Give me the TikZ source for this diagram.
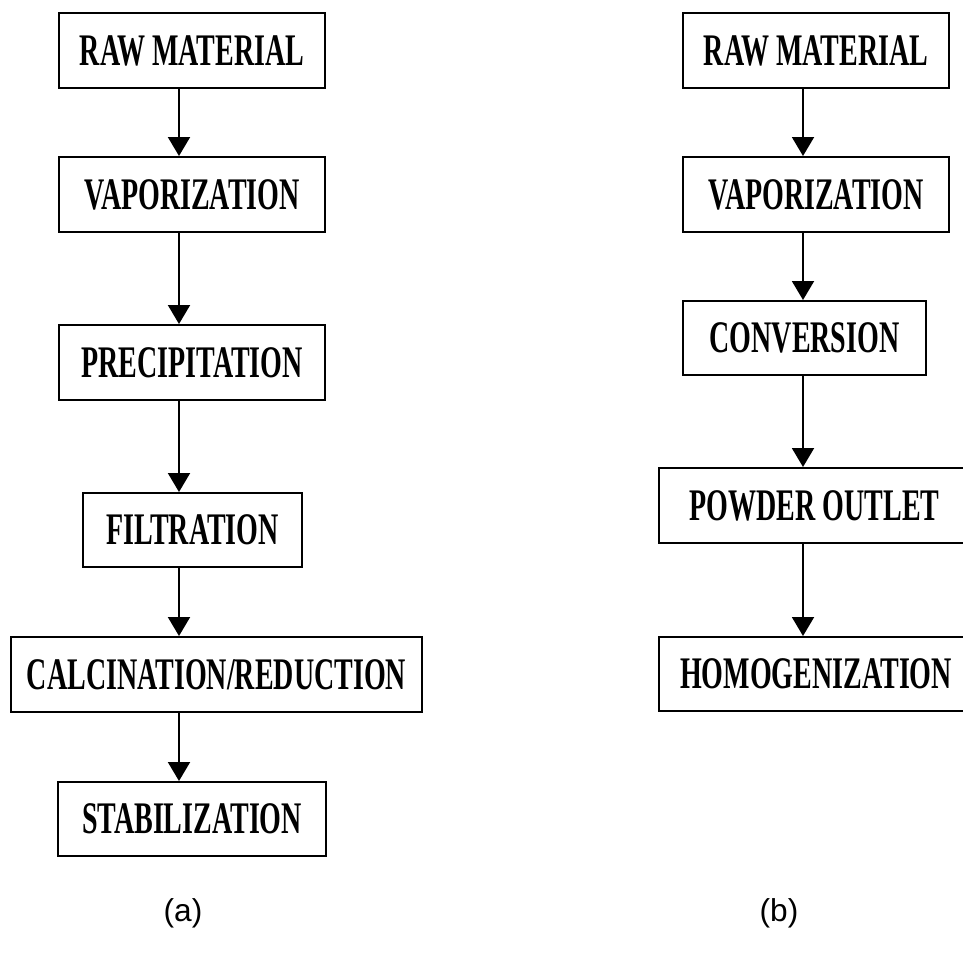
\documentclass[tikz,border=0pt]{standalone}
\usepackage{fontspec}
\setmainfont{Liberation Serif}
\setsansfont{Liberation Sans}
\usetikzlibrary{arrows.meta}

\newcommand{\squeeze}[1]{\raisebox{-0.07cm}{\scalebox{0.62}[1]{#1}}}
\tikzset{
  stepbox/.style={draw,line width=0.04cm,inner sep=0pt,minimum width=5.32cm,minimum height=1.5cm,
    font=\fontsize{25.7}{30}\selectfont\bfseries},
  flow/.style={-{Triangle[width=0.44cm,length=0.38cm]},line width=0.04cm},
  caption/.style={font=\sffamily\fontsize{18}{21}\selectfont}
}

\begin{document}
\begin{tikzpicture}
  \useasboundingbox (0,0) rectangle (19.26,-19.08);

  % (a)
  \coordinate (ax) at (3.58,0);
  \node[stepbox] (rawa) at (3.84,-1.01) {\squeeze{RAW MATERIAL}};
  \node[stepbox] (vapa) at (3.84,-3.89) {\squeeze{VAPORIZATION}};
  \node[stepbox] (prea) at (3.84,-7.25) {\squeeze{PRECIPITATION}};
  \node[stepbox,minimum width=4.38cm,minimum height=1.48cm] (fila) at (3.85,-10.6) {\squeeze{FILTRATION}};
  \node[stepbox,minimum width=8.22cm] (cala) at (4.33,-13.49) {\squeeze{CALCINATION/REDUCTION}};
  \node[stepbox,minimum width=5.36cm,minimum height=1.48cm] (staa) at (3.84,-16.38) {\squeeze{STABILIZATION}};

  \draw[flow] (rawa.south -| ax)--(vapa.north -| ax);
  \draw[flow] (vapa.south -| ax)--(prea.north -| ax);
  \draw[flow] (prea.south -| ax)--(fila.north -| ax);
  \draw[flow] (fila.south -| ax)--(cala.north -| ax);
  \draw[flow] (cala.south -| ax)--(staa.north -| ax);

  % (b)
  \coordinate (bx) at (16.06,0);
  \node[stepbox] (rawb) at (16.32,-1.01) {\squeeze{RAW MATERIAL}};
  \node[stepbox] (vapb) at (16.32,-3.89) {\squeeze{VAPORIZATION}};
  \node[stepbox,minimum width=4.86cm,minimum height=1.48cm] (conb) at (16.09,-6.76) {\squeeze{CONVERSION}};
  \node[stepbox,minimum width=6.22cm] (powb) at (16.29,-10.11) {\squeeze{POWDER OUTLET}};
  \node[stepbox,minimum width=6.28cm,minimum height=1.48cm] (homb) at (16.32,-13.48) {\squeeze{HOMOGENIZATION}};

  \draw[flow] (rawb.south -| bx)--(vapb.north -| bx);
  \draw[flow] (vapb.south -| bx)--(conb.north -| bx);
  \draw[flow] (conb.south -| bx)--(powb.north -| bx);
  \draw[flow] (powb.south -| bx)--(homb.north -| bx);

  \node[caption] (capa) at (3.66,-18.26) {(a)};
  \node[caption] (capb) at (15.58,-18.26) {(b)};
\end{tikzpicture}
\end{document}
